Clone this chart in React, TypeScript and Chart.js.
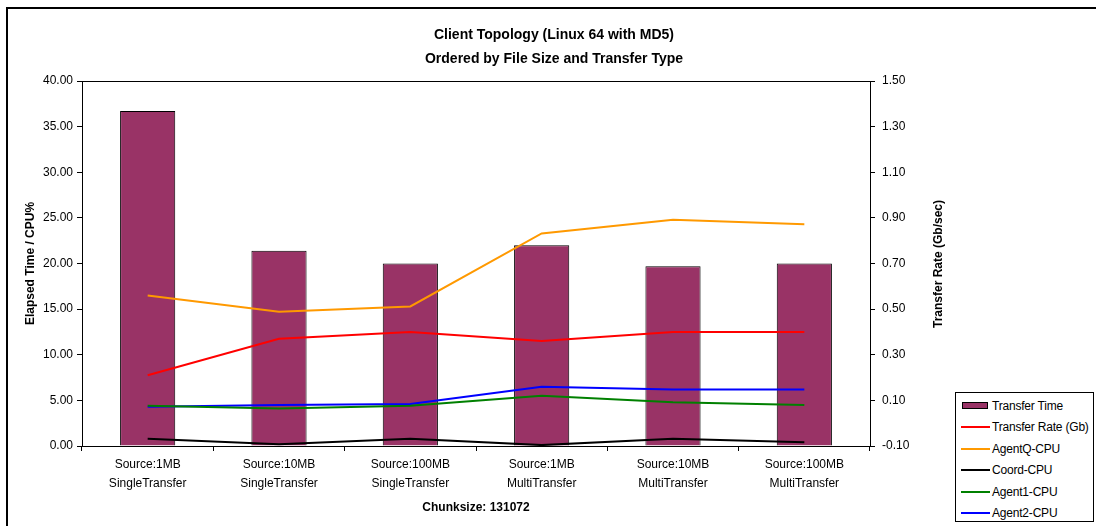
import React, { useEffect, useRef } from "react";
import { Chart, registerables } from "chart.js";

Chart.register(...registerables);

const categories: string[][] = [
  ["Source:1MB", "SingleTransfer"],
  ["Source:10MB", "SingleTransfer"],
  ["Source:100MB", "SingleTransfer"],
  ["Source:1MB", "MultiTransfer"],
  ["Source:10MB", "MultiTransfer"],
  ["Source:100MB", "MultiTransfer"],
];
const transferTime = [36.7, 21.4, 20.0, 22.0, 19.7, 20.0];
const transferRate = [0.21, 0.37, 0.4, 0.36, 0.4, 0.4];
const agentQCpu = [16.5, 14.7, 15.3, 23.3, 24.8, 24.3];
const coordCpu = [0.8, 0.2, 0.8, 0.1, 0.8, 0.4];
const agent1Cpu = [4.4, 4.1, 4.4, 5.5, 4.8, 4.5];
const agent2Cpu = [4.3, 4.5, 4.6, 6.5, 6.2, 6.2];

const leftTicks = { min: 0, max: 40, step: 5 };
const rightTicks = { min: -0.1, max: 1.5, step: 0.2 };

const FONT = "'Liberation Sans', Arial, sans-serif";

const series = [
  { label: "Transfer Time", type: "bar", data: transferTime, color: "#993366", axis: "y" },
  { label: "Transfer Rate (Gb)", type: "line", data: transferRate, color: "#FF0000", axis: "y1" },
  { label: "AgentQ-CPU", type: "line", data: agentQCpu, color: "#FF9900", axis: "y" },
  { label: "Coord-CPU", type: "line", data: coordCpu, color: "#000000", axis: "y" },
  { label: "Agent1-CPU", type: "line", data: agent1Cpu, color: "#008000", axis: "y" },
  { label: "Agent2-CPU", type: "line", data: agent2Cpu, color: "#0000FF", axis: "y" },
];

const frameBox = {
  id: "frameBox",
  afterDatasetsDraw(chart: any) {
    const { ctx, chartArea } = chart;
    ctx.save();
    ctx.strokeStyle = "#000";
    ctx.lineWidth = 1;
    ctx.strokeRect(
      Math.round(chartArea.left) + 0.5,
      Math.round(chartArea.top) + 0.5,
      Math.round(chartArea.right - chartArea.left),
      Math.round(chartArea.bottom - chartArea.top)
    );
    ctx.restore();
  },
};

export default function App() {
  const ref = useRef<HTMLCanvasElement | null>(null);

  useEffect(() => {
    if (!ref.current) return;
    const datasets: any[] = series.map((s) =>
      s.type === "bar"
        ? {
            type: "bar",
            label: s.label,
            data: s.data,
            backgroundColor: s.color,
            borderColor: "#000",
            borderWidth: 1,
            barPercentage: 0.42,
            categoryPercentage: 1,
            yAxisID: s.axis,
            order: 1,
          }
        : {
            type: "line",
            label: s.label,
            data: s.data,
            borderColor: s.color,
            backgroundColor: s.color,
            borderWidth: 2,
            pointRadius: 0,
            tension: 0,
            yAxisID: s.axis,
            order: 0,
          }
    );
    const chart = new Chart(ref.current, {
      type: "bar",
      data: { labels: categories, datasets },
      plugins: [frameBox],
      options: {
        responsive: false,
        animation: false,
        layout: { padding: { left: 0, right: 136, top: 81, bottom: 0 } },
        plugins: { legend: { display: false }, tooltip: { enabled: false }, title: { display: false } },
        scales: {
          x: {
            grid: {
              display: true,
              drawOnChartArea: false,
              drawTicks: true,
              tickLength: 5,
              color: "#000",
              offset: true,
            },
            border: { display: true, color: "#000" },
            ticks: {
              color: "#000",
              font: { family: FONT, size: 12, lineHeight: 1.6 },
              padding: 4,
              maxRotation: 0,
              autoSkip: false,
            },
            title: {
              display: true,
              text: "Chunksize: 131072",
              color: "#000",
              font: { family: FONT, size: 12, weight: "bold" },
              padding: { top: 0, bottom: 11 },
            },
            afterFit: (s: any) => {
              s.height = 80;
            },
          },
          y: {
            position: "left",
            min: leftTicks.min,
            max: leftTicks.max,
            grid: { display: true, drawOnChartArea: false, tickLength: 5, color: "#000" },
            border: { display: true, color: "#000" },
            ticks: {
              stepSize: leftTicks.step,
              color: "#000",
              font: { family: FONT, size: 12 },
              padding: 4,
              callback: (v: any) => Number(v).toFixed(2),
            },
            title: {
              display: true,
              text: "Elapsed Time / CPU%",
              color: "#000",
              font: { family: FONT, size: 12, weight: "bold" },
              padding: { top: 23, bottom: 0 },
            },
            afterFit: (s: any) => {
              s.width = 82;
            },
          },
          y1: {
            position: "right",
            min: rightTicks.min,
            max: rightTicks.max,
            grid: { display: true, drawOnChartArea: false, tickLength: 5, color: "#000" },
            border: { display: true, color: "#000" },
            ticks: {
              stepSize: rightTicks.step,
              color: "#000",
              font: { family: FONT, size: 12 },
              padding: 7,
              callback: (v: any) => Number(v).toFixed(2),
            },
            title: { display: false },
            afterFit: (s: any) => {
              s.width = 90;
            },
          },
        },
      } as any,
    });
    return () => chart.destroy();
  }, []);

  return (
    <div
      style={{
        position: "absolute",
        left: 0,
        top: 0,
        width: 1096,
        height: 526,
        background: "#fff",
        overflow: "hidden",
        fontFamily: FONT,
      }}
    >
      <div
        style={{
          position: "absolute",
          left: 6,
          top: 7,
          width: 1200,
          height: 600,
          border: "2px solid #000",
          boxSizing: "border-box",
        }}
      />
      <canvas ref={ref} width={1096} height={526} style={{ position: "absolute", left: 0, top: 0 }} />
      <div
        style={{
          position: "absolute",
          left: 0,
          top: 22,
          width: 1108,
          textAlign: "center",
          fontWeight: "bold",
          fontSize: 14,
          lineHeight: "24px",
          color: "#000",
        }}
      >
        <div>Client Topology (Linux 64 with MD5)</div>
        <div>Ordered by File Size and Transfer Type</div>
      </div>
      <div
        style={{
          position: "absolute",
          left: 938 - 100,
          top: 264 - 8,
          width: 200,
          height: 16,
          lineHeight: "16px",
          textAlign: "center",
          fontWeight: "bold",
          fontSize: 12,
          color: "#000",
          transform: "rotate(-90deg)",
          whiteSpace: "nowrap",
        }}
      >
        Transfer Rate (Gb/sec)
      </div>
      <div
        style={{
          position: "absolute",
          left: 955,
          top: 392,
          width: 139,
          height: 130,
          border: "1px solid #000",
          boxSizing: "border-box",
          background: "#fff",
          paddingTop: 2,
        }}
      >
        {series.map((s) => (
          <div
            key={s.label}
            style={{
              display: "flex",
              alignItems: "center",
              height: 21.5,
              fontSize: 12,
              color: "#000",
              whiteSpace: "nowrap",
              letterSpacing: "-0.2px",
            }}
          >
            {s.type === "bar" ? (
              <span
                style={{
                  display: "inline-block",
                  flex: "none",
                  width: 26,
                  height: 7,
                  marginLeft: 6,
                  marginRight: 4,
                  background: s.color,
                  border: "1px solid #000",
                  boxSizing: "border-box",
                }}
              />
            ) : (
              <span
                style={{
                  display: "inline-block",
                  flex: "none",
                  width: 29,
                  height: 2,
                  marginLeft: 5,
                  marginRight: 2,
                  background: s.color,
                }}
              />
            )}
            <span>{s.label}</span>
          </div>
        ))}
      </div>
    </div>
  );
}
